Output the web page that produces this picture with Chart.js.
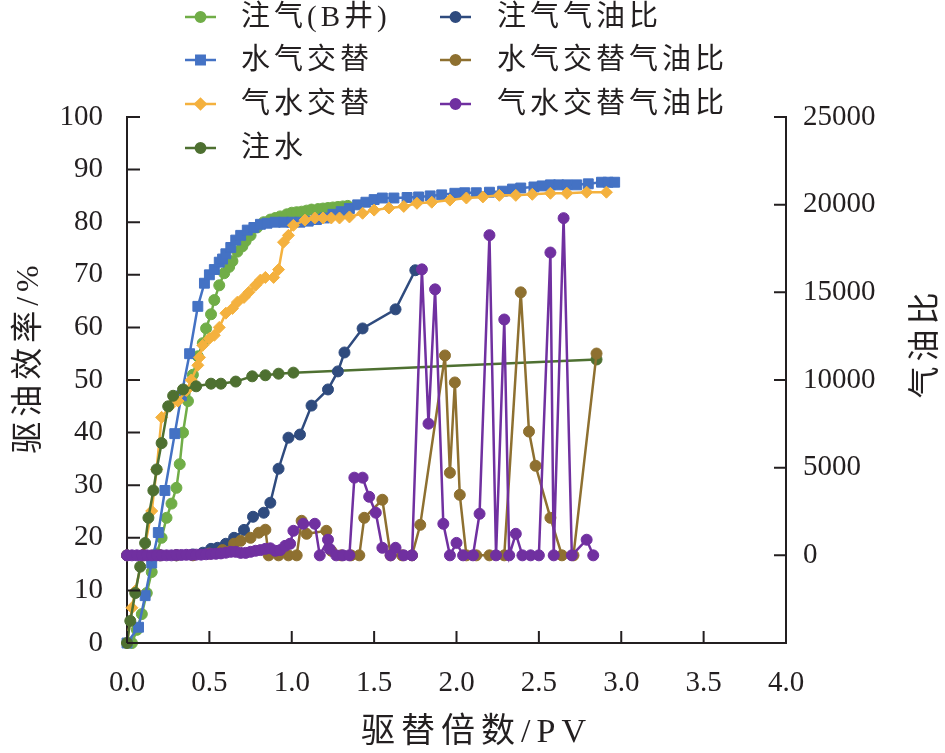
<!DOCTYPE html>
<html><head><meta charset="utf-8">
<script src="https://cdn.jsdelivr.net/npm/chart.js@4.4.1/dist/chart.umd.min.js"></script>
<style>html,body{margin:0;padding:0;background:#fff}#wrap{width:945px;height:753px;position:relative}</style>
</head><body><div id="wrap"><canvas id="c"></canvas></div>
<script>
// ---- text ----
const xTitle = '驱替倍数/PV';
const yLeftTitle = '驱油效率/%';
const yRightTitle = '气油比';
const seriesNames = ['注气(B井)','水气交替','气水交替','注水','注气气油比','水气交替气油比','气水交替气油比'];

// ---- data (left axis: 驱油效率/%) ----
const gasBX = [0.03,0.06,0.09,0.12,0.15,0.18,0.21,0.24,0.27,0.30,0.32,0.34,0.37,0.40,0.43,0.46,0.48,0.51,0.53,0.56,0.59,0.62,0.64,0.67,0.70,0.72,0.75,0.79,0.83,0.87,0.90,0.93,0.97,1.00,1.03,1.06,1.09,1.12,1.16,1.19,1.22,1.25,1.28,1.31,1.34];
const gasBY = [0,2.5,5.5,9.5,13.5,17,20,23.8,26.5,29.5,34,40,46,51,54.5,57,59.8,62.5,65.2,68,70.3,71.5,72.6,74.4,75.4,76.4,77.5,79,80,80.5,80.8,81.1,81.5,81.8,81.9,82,82.2,82.4,82.5,82.6,82.7,82.8,82.9,83,83.1];

const wagX = [0,0.07,0.11,0.15,0.19,0.23,0.29,0.33,0.38,0.43,0.47,0.50,0.53,0.56,0.58,0.60,0.63,0.66,0.69,0.73,0.77,0.81,0.85,0.90,0.95,1.00,1.05,1.10,1.15,1.20,1.25,1.30,1.35,1.40,1.45,1.50,1.55,1.62,1.70,1.77,1.84,1.91,1.99,2.05,2.12,2.20,2.28,2.34,2.39,2.47,2.52,2.57,2.62,2.67,2.73,2.80,2.88,2.92,2.96];
const wagY = [0,3,9,15.2,21,29,39.8,47,55,64,68.4,70,71,72.4,73,74,75.2,76.6,77.5,78.5,79,79.6,79.8,80,80,80,80,80.2,80.5,80.8,81.5,82,82.6,83.3,83.8,84.3,84.6,84.6,84.7,84.8,85,85.2,85.5,85.6,85.6,85.7,85.9,86.3,86.5,86.7,86.9,87.1,87.1,87.1,87.1,87.3,87.6,87.6,87.6];

const gawX = [0,0.03,0.05,0.10,0.15,0.18,0.21,0.26,0.31,0.36,0.39,0.43,0.44,0.46,0.50,0.53,0.56,0.60,0.64,0.67,0.71,0.74,0.78,0.81,0.84,0.89,0.92,0.95,0.98,1.01,1.08,1.14,1.19,1.24,1.29,1.35,1.43,1.50,1.59,1.68,1.76,1.85,1.96,2.06,2.16,2.26,2.36,2.46,2.57,2.67,2.79,2.91];
const gawY = [0,6.7,9.9,17,25.1,33,42.9,45,46,48,50,52.8,54.3,56.6,57.9,58.5,60,62.7,63.6,64.8,65.7,66.7,68,69,69.5,69.5,71,76.2,77.5,79.4,80.4,80.8,80.8,80.8,80.8,81,81.7,82.3,82.7,83,83.6,83.8,84.2,84.6,84.8,85.1,85.1,85.3,85.5,85.5,85.7,85.7];

const waterX = [0,0.02,0.05,0.08,0.11,0.13,0.16,0.18,0.21,0.25,0.28,0.34,0.42,0.51,0.57,0.66,0.76,0.84,0.92,1.01,2.85];
const waterY = [0,4.2,9.5,14.5,19,23.8,29,33,38,45,47,48.2,48.8,49.3,49.3,49.7,50.7,50.9,51.2,51.4,53.9];

// ---- data (right axis: 气油比) ----
const gorGasX = [0,0.1,0.2,0.3,0.4,0.46,0.51,0.55,0.60,0.65,0.71,0.765,0.83,0.87,0.92,0.98,1.05,1.12,1.22,1.28,1.32,1.43,1.63,1.75];
const gorGasY = [0,0,0,0,50,150,370,430,660,1000,1450,2200,2430,3000,4940,6710,6890,8540,9460,10490,11570,12940,14030,16260];

const gorWagX = [0,0.1,0.2,0.3,0.4,0.5,0.58,0.65,0.69,0.75,0.80,0.84,0.86,0.92,0.98,1.03,1.06,1.09,1.21,1.24,1.30,1.36,1.41,1.44,1.55,1.60,1.67,1.73,1.78,1.93,1.96,1.99,2.02,2.06,2.12,2.20,2.29,2.39,2.44,2.48,2.57,2.64,2.71,2.85];
const gorWagY = [0,0,0,0,0,100,300,660,830,1000,1290,1460,0,0,0,0,1970,1230,1400,260,0,0,0,2140,3170,0,0,0,1740,11400,4710,9860,3450,0,0,0,0,15000,7060,5110,2140,0,0,11510];

const gorGawX = [0,0.03,0.06,0.09,0.12,0.15,0.18,0.21,0.24,0.27,0.30,0.33,0.36,0.39,0.42,0.45,0.48,0.51,0.54,0.57,0.60,0.63,0.66,0.69,0.72,0.75,0.78,0.81,0.84,0.87,0.90,0.93,0.96,0.99,1.01,1.07,1.14,1.17,1.22,1.23,1.27,1.31,1.35,1.38,1.43,1.47,1.51,1.55,1.60,1.63,1.68,1.73,1.79,1.83,1.87,1.92,1.96,2.00,2.04,2.10,2.14,2.20,2.24,2.29,2.32,2.36,2.40,2.45,2.50,2.57,2.59,2.65,2.70,2.79,2.83];
const gorGawY = [0,0,0,0,0,0,0,0,0,0,20,20,30,30,40,40,60,80,90,110,150,200,200,140,140,200,260,300,370,400,260,300,540,660,1400,1800,1800,0,890,370,0,0,0,4430,4430,3340,2430,430,0,430,0,0,16310,7510,15170,1800,0,710,0,0,2370,18260,0,13450,0,1230,0,0,0,17270,0,19230,0,890,0];

// ---- axis ticks ----
const xTicks = [0,0.5,1.0,1.5,2.0,2.5,3.0,3.5,4.0];
const yLeftTicks = [0,10,20,30,40,50,60,70,80,90,100];
const yRightTicks = [0,5000,10000,15000,20000,25000];

const zip = (xs, ys) => xs.slice(0, Math.min(xs.length, ys.length)).map((x, i) => ({x, y: ys[i]}));

const styles = [
  {c:'#70AD47', ps:'circle', r:5.5, ax:'y'},
  {c:'#4472C4', ps:'rect', r:7, ax:'y'},
  {c:'#F4B13E', ps:'rectRot', r:6, ax:'y'},
  {c:'#4E7031', ps:'circle', r:5.5, ax:'y'},
  {c:'#2F4B7E', ps:'circle', r:5.5, ax:'y1'},
  {c:'#8E7030', ps:'circle', r:5.5, ax:'y1'},
  {c:'#7030A0', ps:'circle', r:5.5, ax:'y1'}
];
const seriesData = [zip(gasBX,gasBY), zip(wagX,wagY), zip(gawX,gawY), zip(waterX,waterY),
                    zip(gorGasX,gorGasY), zip(gorWagX,gorWagY), zip(gorGawX,gorGawY)];

const datasets = seriesData.map((d, i) => ({
  label: seriesNames[i], data: d, yAxisID: styles[i].ax,
  borderColor: styles[i].c, backgroundColor: styles[i].c,
  pointBackgroundColor: styles[i].c, pointBorderColor: styles[i].c,
  pointStyle: styles[i].ps, pointRadius: styles[i].r, pointHoverRadius: styles[i].r,
  pointBorderWidth: 1, borderWidth: 2.5, tension: 0, fill: false, showLine: true,
  clip: false, order: 7 - i
}));

const FONT = "'Liberation Serif','Noto Sans CJK SC'";
const INK = '#231f20';

const tickMarks = {
  id: 'tickMarks',
  afterDatasetsDraw(chart) {
    const {ctx, chartArea: a, scales} = chart;
    ctx.save(); ctx.strokeStyle = INK; ctx.lineWidth = 2; ctx.beginPath();
    xTicks.forEach(v => { const p = scales.x.getPixelForValue(v); ctx.moveTo(p, a.bottom); ctx.lineTo(p, a.bottom - 12); });
    yLeftTicks.forEach(v => { const p = scales.y.getPixelForValue(v); ctx.moveTo(a.left, p); ctx.lineTo(a.left + 13, p); });
    yRightTicks.forEach(v => { const p = scales.y1.getPixelForValue(v); ctx.moveTo(a.right, p); ctx.lineTo(a.right - 12, p); });
    ctx.stroke(); ctx.restore();
  }
};

const titleShift = { x: [20, 0, '6px'], y: [0, -23, '5px'] };

const customText = {
  id: 'customText',
  beforeDraw(chart) {
    Object.keys(titleShift).forEach(id => {
      const s = chart.scales[id];
      if (s && !s._lsWrapped && typeof s.drawTitle === 'function') {
        const orig = s.drawTitle;
        const [dx, dy, ls] = titleShift[id];
        s.drawTitle = function() {
          this.ctx.save(); this.ctx.letterSpacing = ls; this.ctx.translate(dx, dy);
          orig.apply(this, arguments); this.ctx.restore();
        };
        s._lsWrapped = true;
      }
    });
  },
  afterDraw(chart) {
    const ctx = chart.ctx;
    // right axis title (reads bottom to top)
    ctx.save();
    ctx.font = "32px " + FONT; ctx.fillStyle = INK; ctx.letterSpacing = '5px';
    ctx.textAlign = 'center'; ctx.textBaseline = 'middle';
    ctx.translate(927, 343); ctx.rotate(-Math.PI / 2);
    ctx.fillText(yRightTitle, 0, 0);
    ctx.restore();
    // legend in two columns
    ctx.save();
    ctx.font = "29px " + FONT; ctx.textBaseline = 'middle'; ctx.textAlign = 'left';
    ctx.letterSpacing = '4px';
    const cols = [[185, 241], [440, 497]];
    const rows = [17, 60, 104, 148];
    chart.data.datasets.forEach((ds, i) => {
      const col = i < 4 ? 0 : 1, row = i < 4 ? i : i - 4;
      const lx = cols[col][0], tx = cols[col][1], y = rows[row];
      ctx.strokeStyle = ds.borderColor; ctx.lineWidth = 2.5;
      ctx.beginPath(); ctx.moveTo(lx, y); ctx.lineTo(lx + 31, y); ctx.stroke();
      ctx.fillStyle = ds.borderColor;
      const st = styles[i];
      Chart.helpers.drawPoint(ctx, {pointStyle: st.ps, radius: st.r * 0.85, rotation: 0, borderWidth: 1}, lx + 15.5, y);
      ctx.fillStyle = INK;
      ctx.fillText(ds.label, tx, y + 1);
    });
    ctx.restore();
  }
};

new Chart(document.getElementById('c'), {
  type: 'scatter',
  data: { datasets },
  options: {
    responsive: true, maintainAspectRatio: false, animation: false,
    layout: { padding: { top: 117, left: 0, right: 0, bottom: 0 } },
    plugins: { legend: { display: false }, tooltip: { enabled: false } },
    scales: {
      x: {
        type: 'linear', min: 0, max: 4,
        afterBuildTicks: s => { s.ticks = xTicks.map(v => ({value: v})); },
        afterFit: s => { s.height = 110; },
        grid: { display: false, drawTicks: false },
        border: { display: true, color: INK, width: 2 },
        ticks: { color: INK, font: { family: FONT, size: 29 }, padding: 23, maxRotation: 0, callback: v => Number(v).toFixed(1) },
        title: { display: true, text: xTitle, color: INK, font: { family: FONT, size: 34 }, padding: { top: 0, bottom: 0 } }
      },
      y: {
        type: 'linear', position: 'left', min: 0, max: 100,
        afterBuildTicks: s => { s.ticks = yLeftTicks.map(v => ({value: v})); },
        afterFit: s => { s.width = 127; },
        grid: { display: false, drawTicks: false },
        border: { display: true, color: INK, width: 2 },
        ticks: { color: INK, font: { family: FONT, size: 29 }, padding: 24, callback: v => String(v) },
        title: { display: true, text: yLeftTitle, color: INK, font: { family: FONT, size: 32 }, padding: { top: 10, bottom: 0 } }
      },
      y1: {
        type: 'linear', position: 'right', min: -5000, max: 25000,
        afterBuildTicks: s => { s.ticks = yRightTicks.map(v => ({value: v})); },
        afterFit: s => { s.width = 159; },
        grid: { display: false, drawTicks: false },
        border: { display: true, color: INK, width: 2 },
        ticks: { color: INK, font: { family: FONT, size: 29 }, padding: 17, callback: v => String(v) }
      }
    }
  },
  plugins: [tickMarks, customText]
});
</script>
</body></html>
